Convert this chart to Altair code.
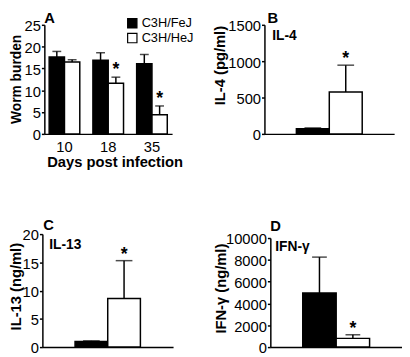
import altair as alt
import pandas as pd

# ---------------- data ----------------
strains = ["C3H/FeJ", "C3H/HeJ"]
days = ["10", "18", "35"]

worm_fej = [17.6, 16.9, 16.1]
worm_fej_err = [1.3, 1.7, 2.1]
worm_hej = [16.5, 11.6, 4.4]
worm_hej_err = [0.5, 1.4, 2.0]
worm_hej_sig = [False, True, True]

il4 = [70, 575]
il4_err = [12, 370]
il13 = [1.0, 8.6]
il13_err = [0.1, 6.7]
ifng = [4950, 800]
ifng_err = [3300, 330]
cyto_sig = [False, True]

FONT = "Liberation Sans"

# ---------------- panel A ----------------
rows = []
for i, d in enumerate(days):
    rows.append(dict(day=d, strain=strains[0], mean=worm_fej[i],
                     upper=worm_fej[i] + worm_fej_err[i], sig=False))
    rows.append(dict(day=d, strain=strains[1], mean=worm_hej[i],
                     upper=worm_hej[i] + worm_hej_err[i], sig=worm_hej_sig[i]))
dfA = pd.DataFrame(rows)

fill_scale = alt.Scale(domain=strains, range=["black", "white"])

xA = alt.X("day:N", sort=days,
           scale=alt.Scale(domain=days, range=[2, 132], paddingInner=0.3, paddingOuter=0.11),
           axis=alt.Axis(title="Days post infection", labelAngle=0, labelFontSize=15,
                         labelPadding=6, ticks=False, titleX=73.5, titleY=21,
                         titleBaseline="top", titleFontSize=15))
xoffA = alt.XOffset("strain:N", sort=strains,
                    scale=alt.Scale(domain=strains, paddingInner=0, paddingOuter=0))
scaleA = alt.Scale(domain=[0, 25], range=[111, 0], nice=False, zero=True)
axisA = alt.Axis(title="Worm burden", values=[0, 5, 10, 15, 20, 25], offset=-2,
                 format="d", labelOverlap=False,
                 titleX=-21, titleY=55, titleFontSize=14)


def yA(field):
    return alt.Y(field, scale=scaleA, axis=axisA)


barsA = alt.Chart(dfA).mark_bar(stroke="black", strokeWidth=1.5).encode(
    x=xA, xOffset=xoffA, y=yA("mean:Q"),
    fill=alt.Fill("strain:N", scale=fill_scale,
                  legend=alt.Legend(title=None, orient="none", legendX=85, legendY=-8,
                                    symbolType="square", symbolSize=90,
                                    symbolStrokeColor="black", symbolStrokeWidth=1.2,
                                    labelFontSize=13, labelFont=FONT, labelColor="black",
                                    rowPadding=0, padding=0, labelOffset=3)),
)
errA = alt.Chart(dfA).mark_rule(color="black", strokeWidth=1.5).encode(
    x=xA, xOffset=xoffA, y=yA("mean:Q"), y2="upper:Q")
capA = alt.Chart(dfA).mark_tick(orient="horizontal", size=9, thickness=1.5, color="black").encode(
    x=xA, xOffset=xoffA, y=yA("upper:Q"))
starA = alt.Chart(dfA).transform_filter("datum.sig").mark_text(
    text="*", fontSize=18, fontWeight="bold", baseline="alphabetic", dy=-2, font=FONT,
    color="black").encode(x=xA, xOffset=xoffA, y=yA("upper:Q"))
letterA = alt.Chart(pd.DataFrame({"t": ["A"]})).mark_text(
    align="left", baseline="alphabetic", fontSize=15, fontWeight="bold", font=FONT, color="black").encode(
    text="t:N", x=alt.value(2), y=alt.value(-2))

panelA = alt.layer(barsA, errA, capA, starA, letterA).properties(width=133, height=111)


# ---------------- cytokine panels ----------------
def cyto_panel(vals, errs, domain, ticks, ytitle, inner, letter,
               xrange, pad_outer, yrange, yoffset, cap, title_x, title_y,
               letter_xy, inner_xy, width, height):
    df = pd.DataFrame(dict(strain=strains, mean=vals,
                           upper=[v + e for v, e in zip(vals, errs)], sig=cyto_sig))
    x = alt.X("strain:N", sort=strains,
              scale=alt.Scale(domain=strains, range=xrange, paddingInner=0,
                              paddingOuter=pad_outer),
              axis=alt.Axis(title=None, labels=False, ticks=False))
    sc = alt.Scale(domain=domain, range=yrange, nice=False, zero=True)
    ax = alt.Axis(title=ytitle, values=ticks, offset=yoffset, format="d",
                  labelOverlap=False, titleX=title_x, titleY=title_y)

    def y(field):
        return alt.Y(field, scale=sc, axis=ax)

    bars = alt.Chart(df).mark_bar(stroke="black", strokeWidth=1.5).encode(
        x=x, y=y("mean:Q"), fill=alt.Fill("strain:N", scale=fill_scale, legend=None))
    err = alt.Chart(df).mark_rule(color="black", strokeWidth=1.5).encode(
        x=x, y=y("mean:Q"), y2="upper:Q")
    capm = alt.Chart(df).mark_tick(orient="horizontal", size=cap, thickness=1.5,
                                   color="black").encode(x=x, y=y("upper:Q"))
    star = alt.Chart(df).transform_filter("datum.sig").mark_text(
        text="*", fontSize=18, fontWeight="bold", baseline="alphabetic", dy=-1, font=FONT,
        color="black").encode(x=x, y=y("upper:Q"))
    let = alt.Chart(pd.DataFrame({"t": [letter]})).mark_text(
        align="left", baseline="alphabetic", fontSize=15, fontWeight="bold", font=FONT,
        color="black").encode(text="t:N", x=alt.value(letter_xy[0]), y=alt.value(letter_xy[1]))
    lab = alt.Chart(pd.DataFrame({"t": [inner]})).mark_text(
        align="left", baseline="alphabetic", fontSize=14, fontWeight="bold", font=FONT,
        color="black").encode(text="t:N", x=alt.value(inner_xy[0]), y=alt.value(inner_xy[1]))
    return alt.layer(bars, err, capm, star, let, lab).properties(width=width, height=height)


panelB = cyto_panel(il4, il4_err, [0, 1500], [0, 500, 1000, 1500], "IL-4 (pg/ml)", "IL-4", "B",
                    [0, 132], 0.97, [111, 0], 0, 17, -38, 41, (3, -2), (8, 15), 140, 111)
panelC = cyto_panel(il13, il13_err, [0, 20], [0, 5, 10, 15, 20], "IL-13 (ng/ml)", "IL-13", "C",
                    [0, 133], 1.0, [115, 0], 0, 17, -19, 53, (1, -4), (7, 15), 133, 115)
panelD = cyto_panel(ifng, ifng_err, [0, 10000], [0, 2000, 4000, 6000, 8000, 10000],
                    "IFN-γ (ng/ml)", "IFN-γ", "D",
                    [6, 140], 0.97, [115, 4], -6, 15, -43, 55, (6, -3), (11, 17), 140, 115)

chart = alt.ConcatChart(
    concat=[panelA, panelB, panelC, panelD], columns=2,
    spacing=alt.RowColnumber(row=102, column=93), bounds="flush",
).properties(padding=0, background="white").configure(font=FONT).configure_view(
    stroke=None
).configure_axis(
    grid=False, labelFont=FONT, labelFontSize=15, labelColor="black", labelPadding=1,
    domainColor="black", domainWidth=1.5, tickColor="black", tickSize=3, tickWidth=1.5,
    titleFont=FONT, titleFontSize=15, titleFontWeight="bold", titleColor="black",
).configure_axisY(titleAngle=270, titleBaseline="bottom", labelOffset=1)

chart.save("out.html", embed_options={"renderer": "svg", "actions": False})
